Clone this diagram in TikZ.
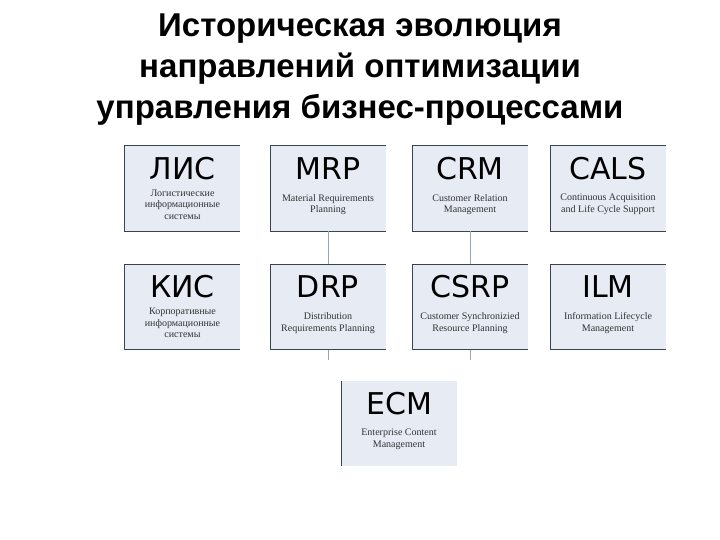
\documentclass[tikz,border=0pt]{standalone}
\usepackage{fontspec}
\setmainfont{Liberation Serif}
\newfontfamily\titlefont{Liberation Sans}
\newfontfamily\bigfont{DejaVu Sans}
\definecolor{boxfill}{HTML}{E6EBF4}
\definecolor{edge}{HTML}{3A4450}
\definecolor{conn}{HTML}{9AA4B0}
\begin{document}
\begin{tikzpicture}[x=1pt,y=-1pt,
  bx/.style={fill=boxfill,draw=none,minimum width=115pt,minimum height=85pt,inner sep=0pt},
  big/.style={font=\bigfont\fontsize{30}{32}\selectfont},
  small/.style={font=\fontsize{10}{11.5}\selectfont,align=center,text=black!80}]
\useasboundingbox (0,0) rectangle (720,540);
\node[font=\titlefont\bfseries\fontsize{33}{41}\selectfont,align=center] (title) at (360,70)
 {Историческая эволюция\\направлений оптимизации\\управления бизнес-процессами};
\newcommand\mybox[6]{%
 \node[bx] (#1) at (#2,#3) {};
 \node[big] (#1t) at (#2,#3-20) {#4};
 \node[small] (#1s) at (#2,#3+16) {#5};
 \ifnum#6=1
 \draw[edge,line width=1pt] (#1.north east) -- (#1.north west) -- (#1.south west) -- (#1.south east);
 \else
 \draw[edge,line width=1pt] (#1.north west) -- (#1.south west);
 \fi}
\mybox{lis}{182.5}{188.5}{ЛИС}{Логистические\\информационные\\системы}{1}
\mybox{mrp}{328}{188.5}{MRP}{Material Requirements\\Planning}{1}
\mybox{crm}{470}{188.5}{CRM}{Customer Relation\\Management}{1}
\mybox{cals}{608}{188.5}{CALS}{Continuous Acquisition\\and Life Cycle Support}{1}
\mybox{kis}{182.5}{307}{КИС}{Корпоративные\\информационные\\системы}{1}
\mybox{drp}{328}{307}{DRP}{Distribution\\Requirements Planning}{1}
\mybox{csrp}{470}{307}{CSRP}{Customer Synchronizied\\Resource Planning}{1}
\mybox{ilm}{608}{307}{ILM}{Information Lifecycle\\Management}{1}
\mybox{ecm}{399}{423.5}{ECM}{Enterprise Content\\Management}{0}
\coordinate (d1) at (328,360);
\coordinate (c1) at (470,360);
\draw[conn,line width=0.8pt] (mrp.south) -- (drp.north);
\draw[conn,line width=0.8pt] (crm.south) -- (csrp.north);
\draw[conn,line width=0.8pt] (drp.south) -- (d1);
\draw[conn,line width=0.8pt] (csrp.south) -- (c1);
\end{tikzpicture}
\end{document}
